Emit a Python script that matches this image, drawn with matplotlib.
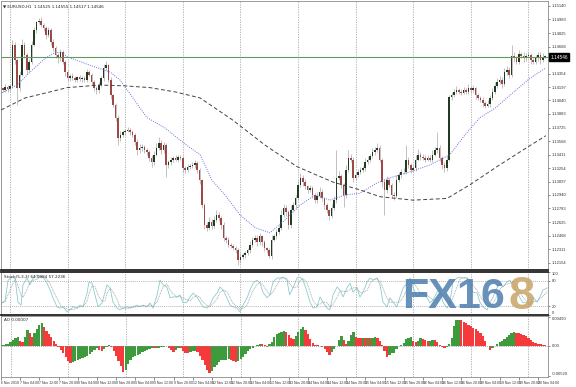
import numpy as np
import pandas as pd
import matplotlib.pyplot as plt

# -------------------------------
# Data (EURUSD H1, 6 Nov 20:00 -> 20 Nov 07:00)
# -------------------------------
closes = [
    1.1418, 1.1416, 1.1420, 1.1417, 1.1421, 1.1469, 1.1451, 1.1418, 1.1434, 1.1469, 1.1457, 1.1440,
    1.1449, 1.1469, 1.1486, 1.1495, 1.1497, 1.1492, 1.1488, 1.1480, 1.1486, 1.1472, 1.1465, 1.1457,
    1.1453, 1.1460, 1.1449, 1.1437, 1.1430, 1.1433, 1.1430, 1.1428, 1.1431, 1.1429, 1.1430, 1.1428,
    1.1437, 1.1434, 1.1426, 1.1418, 1.1416, 1.1422, 1.1430, 1.1442, 1.1445, 1.1428, 1.1410, 1.1399,
    1.1384, 1.1360, 1.1364, 1.1367, 1.1369, 1.1370, 1.1367, 1.1364, 1.1356, 1.1346, 1.1349, 1.1350,
    1.1346, 1.1344, 1.1337, 1.1332, 1.1341, 1.1349, 1.1355, 1.1346, 1.1352, 1.1329, 1.1332, 1.1335,
    1.1337, 1.1335, 1.1338, 1.1337, 1.1325, 1.1323, 1.1327, 1.1328, 1.1329, 1.1331, 1.1323, 1.1311,
    1.1282, 1.1259, 1.1256, 1.1263, 1.1258, 1.1265, 1.1271, 1.1267, 1.1259, 1.1244, 1.1242, 1.1236,
    1.1235, 1.1232, 1.1230, 1.1218, 1.1222, 1.1224, 1.1226, 1.1230, 1.1236, 1.1242, 1.1244, 1.1239,
    1.1246, 1.1239, 1.1232, 1.1230, 1.1223, 1.1242, 1.1246, 1.1251, 1.1256, 1.1271, 1.1279, 1.1274,
    1.1259, 1.1277, 1.1282, 1.1290, 1.1306, 1.1314, 1.1309, 1.1304, 1.1300, 1.1302, 1.1294, 1.1288,
    1.1293, 1.1298, 1.1290, 1.1282, 1.1276, 1.1270, 1.1279, 1.1288, 1.1314, 1.1316, 1.1306, 1.1294,
    1.1323, 1.1337, 1.1335, 1.1314, 1.1317, 1.1321, 1.1323, 1.1325, 1.1332, 1.1335, 1.1339, 1.1344,
    1.1346, 1.1349, 1.1335, 1.1309, 1.1300, 1.1311, 1.1306, 1.1294, 1.1293, 1.1311, 1.1317, 1.1321,
    1.1321, 1.1335, 1.1329, 1.1323, 1.1325, 1.1335, 1.1341, 1.1338, 1.1337, 1.1335, 1.1337, 1.1335,
    1.1341, 1.1346, 1.1349, 1.1337, 1.1329, 1.1325, 1.1335, 1.1408, 1.1410, 1.1414, 1.1416, 1.1414,
    1.1413, 1.1416, 1.1414, 1.1418, 1.1416, 1.1418, 1.1410, 1.1407, 1.1405, 1.1401, 1.1398, 1.1400,
    1.1407, 1.1414, 1.1421, 1.1426, 1.1428, 1.1423, 1.1437, 1.1440, 1.1434, 1.1456, 1.1453, 1.1449,
    1.1458, 1.1456, 1.1453, 1.1456, 1.1457, 1.1451, 1.1449, 1.1453, 1.1457, 1.1451, 1.1455, 1.1455,
]

# wick lengths beyond the body, in pips
wick_up = [
    2, 1, 3, 2, 2, 5, 3, 2, 4, 6, 3, 2,
    3, 4, 3, 2, 3, 4, 2, 3, 3, 2, 4, 3,
    2, 4, 3, 2, 3, 2, 3, 2, 2, 3, 2, 3,
    4, 3, 2, 2, 3, 4, 3, 4, 5, 2, 3, 2,
    2, 3, 4, 3, 2, 3, 2, 3, 2, 3, 4, 3,
    2, 3, 2, 3, 4, 5, 6, 3, 4, 2, 3, 3,
    2, 3, 2, 3, 2, 3, 3, 2, 3, 4, 2, 3,
    2, 3, 4, 5, 3, 4, 5, 3, 2, 3, 2, 3,
    2, 2, 3, 2, 4, 3, 3, 2, 4, 3, 4, 3,
    4, 2, 3, 2, 2, 5, 3, 4, 3, 5, 4, 3,
    3, 5, 4, 4, 5, 6, 3, 4, 2, 4, 3, 2,
    4, 5, 3, 2, 3, 2, 4, 5, 32, 6, 3, 2,
    6, 9, 5, 3, 4, 3, 4, 3, 5, 4, 3, 5,
    4, 5, 3, 2, 4, 5, 3, 2, 3, 6, 4, 3,
    4, 17, 3, 2, 4, 5, 6, 3, 4, 3, 4, 3,
    5, 4, 18, 3, 2, 3, 4, 2, 4, 3, 5, 3,
    3, 4, 3, 5, 3, 4, 2, 3, 2, 3, 2, 4,
    3, 4, 5, 4, 5, 3, 5, 4, 3, 13, 4, 3,
    5, 3, 4, 3, 4, 2, 3, 4, 4, 3, 4, 2,
]
wick_dn = [
    3, 2, 2, 3, 2, 3, 4, 19, 3, 2, 4, 5,
    3, 2, 2, 3, 2, 2, 3, 4, 2, 3, 3, 4,
    5, 3, 2, 4, 3, 3, 2, 3, 3, 2, 3, 2,
    3, 2, 4, 3, 5, 3, 2, 3, 2, 3, 4, 3,
    4, 8, 3, 2, 3, 2, 3, 3, 4, 5, 3, 4,
    3, 4, 3, 5, 3, 2, 3, 4, 3, 14, 4, 3,
    3, 2, 3, 2, 4, 3, 2, 3, 2, 3, 3, 4,
    3, 5, 4, 3, 4, 2, 3, 3, 4, 3, 4, 3,
    3, 2, 4, 5, 3, 2, 3, 2, 3, 2, 3, 4,
    3, 4, 3, 3, 2, 3, 2, 3, 2, 3, 3, 4,
    5, 3, 2, 3, 2, 3, 4, 3, 4, 3, 4, 3,
    3, 2, 3, 4, 3, 5, 3, 2, 3, 3, 4, 14,
    3, 2, 3, 5, 3, 2, 3, 2, 3, 2, 3, 2,
    3, 2, 3, 6, 29, 4, 3, 4, 5, 3, 2, 3,
    3, 2, 4, 3, 2, 3, 2, 3, 2, 3, 2, 3,
    3, 2, 3, 4, 5, 4, 3, 2, 3, 2, 3, 2,
    3, 2, 3, 2, 3, 2, 4, 3, 3, 4, 3, 2,
    3, 2, 3, 2, 3, 4, 2, 3, 4, 3, 4, 3,
    2, 3, 4, 3, 3, 4, 3, 2, 3, 4, 2, 2,
]

# moving averages (bar position, price)
ma_fast_pos = [0.7, 6.9, 12.3, 18.6, 22.8, 25.7, 27.8, 37.3, 45.7, 49.8, 61.1, 68.6, 74.8, 79.0,
               83.2, 88.2, 93.6, 99.8, 106.1, 112.3, 118.6, 124.8, 131.1, 137.3, 143.6, 149.8,
               156.9, 162.3, 170.7, 179.0, 187.3, 193.6, 199.8, 206.1, 212.3, 220.7, 227.3]
ma_fast = [1.1413, 1.1422, 1.1437, 1.1453, 1.1460, 1.1460, 1.1455, 1.1445, 1.1437, 1.1428, 1.1384,
           1.1372, 1.1358, 1.1349, 1.1341, 1.1311, 1.1294, 1.1271, 1.1256, 1.1250, 1.1265, 1.1282,
           1.1294, 1.1288, 1.1294, 1.1296, 1.1308, 1.1314, 1.1321, 1.1329, 1.1341, 1.1364, 1.1384,
           1.1395, 1.1410, 1.1430, 1.1442]
ma_slow_pos = [0.3, 10.3, 20.7, 27.8, 41.5, 51.9, 62.3, 72.8, 83.2, 96.9, 110.3, 123.6, 138.6,
               149.8, 158.2, 171.9, 186.1, 195.7, 206.9, 219.8, 227.3]
ma_slow = [1.1393, 1.1407, 1.1414, 1.1419, 1.1422, 1.1421, 1.1419, 1.1414, 1.1407, 1.1381, 1.1352,
           1.1327, 1.1309, 1.1300, 1.1292, 1.1288, 1.1290, 1.1306, 1.1327, 1.1350, 1.1363]

# stochastic %K (bar position, value)
stoch_pos = [0.5, 1.9, 3.2, 4.8, 6.1, 7.3, 8.6, 9.4, 11.1, 12.3, 13.6, 15.3, 16.5, 17.8, 19.4,
             20.7, 21.9, 23.6, 24.8, 26.1, 27.8, 29.0, 30.3, 31.9, 33.2, 34.4, 36.1, 36.9, 38.2,
             39.4, 40.7, 42.3, 43.6, 44.4, 45.7, 46.9, 48.6, 49.8, 51.1, 52.8, 54.0, 55.3, 56.9,
             58.2, 59.4, 61.1, 62.3, 63.6, 65.3, 66.5, 67.8, 69.4, 70.7, 71.9, 73.6, 74.8, 76.1,
             77.8, 79.0, 80.3, 81.9, 83.2, 84.4, 86.1, 87.3, 88.6, 90.3, 91.5, 92.8, 94.4, 95.7,
             96.9, 98.6, 99.8, 101.1, 102.8, 104.0, 105.3, 106.9, 108.2, 109.4, 111.1, 112.3,
             113.6, 115.3, 116.5, 117.8, 119.4, 120.5, 121.9, 123.6, 124.8, 126.1, 127.8, 129.0,
             130.3, 131.9, 133.2, 134.4, 136.1, 137.3, 138.6, 140.3, 141.5, 142.8, 144.4, 145.7,
             146.9, 148.6, 149.8, 151.1, 152.8, 154.0, 155.3, 156.9, 158.2, 159.4, 161.1, 162.3,
             163.6, 165.2, 166.5, 167.8, 169.4, 170.7, 171.9, 173.6, 174.8, 176.1, 177.8, 179.0,
             180.3, 181.9, 183.2, 184.4, 186.1, 187.3, 188.6, 190.2, 191.5, 192.8, 194.4, 195.7,
             196.9, 198.6, 199.8, 201.1, 202.8, 204.0, 205.3, 206.9, 208.2, 209.4, 211.1, 212.3,
             213.6, 215.2, 216.5, 217.8, 219.4, 220.7, 221.9, 223.6, 224.8, 226.1, 227.8]
stoch_k = [28, 33, 81, 88, 86, 30, 23, 70, 86, 70, 86, 93, 88, 88, 74,
           58, 40, 19, 16, 19, 7, 12, 19, 16, 23, 19, 51, 77, 74,
           47, 19, 28, 53, 70, 63, 30, 16, 12, 16, 19, 16, 19, 23,
           19, 23, 19, 28, 16, 47, 81, 70, 65, 40, 42, 42, 47, 28,
           30, 42, 51, 42, 30, 19, 16, 23, 40, 51, 65, 58, 40, 23,
           19, 16, 7, 23, 40, 58, 74, 81, 74, 53, 40, 47,
           77, 86, 86, 88, 81, 47, 63, 86, 88, 81, 53, 30,
           16, 19, 42, 30, 16, 12, 47, 65, 58, 42, 63, 74,
           53, 63, 42, 53, 77, 86, 81, 86, 70, 30, 19, 40,
           30, 19, 42, 63, 74, 86, 65, 42, 47, 53, 40, 28,
           35, 53, 58, 30, 16, 30, 77, 86, 88, 86, 86, 70,
           53, 51, 30, 19, 12, 28, 42, 63, 74, 65, 77, 81,
           70, 53, 40, 28, 30, 23, 42, 30, 42, 58, 63]

# Awesome Oscillator, one value per bar, in pips
ao_pips = [
    0.5, 1.4, 2.6, 3.6, 6.0, 9.4, 12.8, 14.1, 8.8, 6.6, 15.3, 26.7,
    22.1, 15.3, 21.3, 28.1, 35.2, 37.9, 32.3, 25.5, 19.6, 14.8, 8.0, 2.6,
    -2.6, -6.8, -12.9, -19.7, -25.7, -29.4, -27.2, -25.2, -23.5, -21.8, -20.4, -19.7,
    -18.0, -14.6, -11.1, -7.0, -4.3, -7.3, -8.7, -6.0, -1.7, 2.0, -2.2, -9.0,
    -16.8, -25.3, -34.7, -44.7, -40.8, -30.6, -23.5, -19.4, -16.8, -15.0, -13.3, -11.4,
    -8.7, -6.6, -4.9, -3.9, -3.9, -3.7, -3.1, -2.4, -1.5, -0.7, -4.6, -7.3,
    -10.0, -6.6, -3.9, -3.9, -8.5, -11.6, -12.1, -11.1, -8.8, -8.5, -11.1, -16.7,
    -24.3, -33.2, -41.3, -46.8, -42.2, -36.6, -32.0, -27.7, -25.0, -24.3, -24.1, -22.8,
    -23.8, -25.8, -27.5, -25.2, -22.4, -18.7, -13.6, -9.4, -6.1, -3.7, -0.9, 1.4,
    2.4, 2.2, 0.7, -2.2, 2.2, 6.0, 14.1, 20.7, 22.4, 23.5, 24.8, 23.0,
    18.7, 12.8, 11.9, 16.2, 23.0, 29.2, 31.3, 26.4, 19.6, 11.9, 5.1, 1.2,
    0.9, 0.0, -1.4, -4.8, -10.7, -16.2, -11.2, -6.0, -0.2, 9.7, 16.5, 10.4,
    3.4, 8.5, 18.2, 23.3, 15.3, 13.4, 13.0, 13.3, 13.1, 13.4, 13.2, 13.9,
    14.3, 12.4, 8.8, 0.9, -9.7, -19.2, -15.0, -12.4, -11.9, -5.1, -0.9, 1.7,
    4.3, 10.7, 13.6, 14.8, 7.7, 6.3, 8.0, 12.4, 10.9, 9.2, 8.3, 8.7,
    9.7, 9.7, 6.1, 2.0, -2.2, -3.4, -2.7, 2.6, 13.9, 33.2, 43.0, 43.7,
    43.4, 40.6, 38.3, 35.5, 33.2, 30.8, 27.9, 24.3, 20.9, 16.5, 8.0, 0.3,
    -6.8, -3.2, -0.3, 3.4, 6.6, 8.5, 10.7, 14.8, 18.9, 21.1, 23.3, 22.4,
    21.6, 19.9, 18.4, 16.0, 13.8, 10.4, 7.1, 4.8, 3.4, 2.4, 1.7, 1.2,
]

time_labels = ["6 Nov 2018", "7 Nov 04:00", "7 Nov 12:00", "7 Nov 20:00", "8 Nov 04:00",
               "8 Nov 12:00", "8 Nov 20:00", "9 Nov 04:00", "9 Nov 12:00", "9 Nov 20:00",
               "12 Nov 04:00", "12 Nov 12:00", "12 Nov 20:00", "13 Nov 04:00", "13 Nov 12:00",
               "13 Nov 20:00", "14 Nov 04:00", "14 Nov 12:00", "14 Nov 20:00", "15 Nov 04:00",
               "15 Nov 12:00", "15 Nov 20:00", "16 Nov 04:00", "16 Nov 12:00", "16 Nov 20:00",
               "19 Nov 04:00", "19 Nov 12:00", "19 Nov 20:00", "20 Nov 04:00"]
price_ticks = [1.15140, 1.14983, 1.14825, 1.14668, 1.14511, 1.14354, 1.14197, 1.14040,
               1.13883, 1.13725, 1.13568, 1.13411, 1.13254, 1.13097, 1.12940, 1.12783,
               1.12625, 1.12468, 1.12311, 1.12154]
stoch_ticks = [100, 80, 20, 0]
ao_ticks = [0.0049, 0.0, -0.0052]
last_price = 1.14546

# -------------------------------
# Layout helpers (pixel boxes)
# -------------------------------
W, H = 576, 387
fig = plt.figure(figsize=(W / 100, H / 100), dpi=100)
fig.patch.set_facecolor("white")


def px_axes(x0, y0, x1, y1):
    return fig.add_axes([x0 / W, 1 - y1 / H, (x1 - x0) / W, (y1 - y0) / H])


ax = px_axes(1, 1, 548, 270)
ax_st = px_axes(1, 272, 548, 315)
ax_ao = px_axes(1, 316, 548, 377)

FS = 3.0
SMALL = ["Liberation Sans Narrow", "Liberation Sans", "DejaVu Sans"]
bull, bear, wick = "#233a23", "#a04848", "#a8a8a8"
grid_col = "#a9a9a9"

c = np.array(closes)
n = len(c)
x = np.arange(n)
o = np.r_[c[0], c[:-1]]  # MT4 bars open at the previous close
hi = np.maximum(o, c) + np.array(wick_up) * 1e-4
lo = np.minimum(o, c) - np.array(wick_dn) * 1e-4

for a in (ax, ax_st, ax_ao):
    a.set_xlim(0.25, 228.17)
    for g in range(4, n, 24):
        a.axvline(g, color=grid_col, lw=0.6, ls=(0, (1.5, 1.5)), zorder=0)
    for s in a.spines.values():
        s.set_color("#8a8a8a")
        s.set_linewidth(0.6)
    a.yaxis.tick_right()
    a.tick_params(axis="y", labelsize=FS, length=1.5, width=0.4, pad=1.5, colors="#333333")
    a.tick_params(axis="x", bottom=False, labelbottom=False)

# -------------------------------
# Main price panel
# -------------------------------
ax.vlines(x, lo, hi, color=wick, lw=0.5, zorder=2)
body = np.maximum(np.abs(c - o), 0.00003)
ax.bar(x, body, bottom=np.minimum(o, c), width=0.7,
       color=np.where(c >= o, bull, bear), linewidth=0, zorder=3)
ax.plot(ma_fast_pos, ma_fast, color="#6f6fd8", lw=0.7, ls=(0, (1, 1.3)), zorder=4)
ax.plot(ma_slow_pos, ma_slow, color="#444444", lw=0.7, ls=(0, (4, 2.5)), zorder=4)
ax.axhline(last_price, color="#5f9a5f", lw=0.8, zorder=4)
ax.set_ylim(1.12067, 1.15198)
ax.set_yticks(price_ticks)
ax.set_yticklabels([f"{t:.5f}" for t in price_ticks], family=SMALL)
ax.spines["bottom"].set_color("#222222")
ax.spines["bottom"].set_linewidth(1.3)
ax.text(1.004, last_price, f"{last_price:.5f}", transform=ax.get_yaxis_transform(),
        fontsize=FS + 0.4, family=SMALL, color="white", va="center", ha="left",
        zorder=10, clip_on=False,
        bbox=dict(boxstyle="square,pad=0.3", fc="black", ec="black"))
fig.text(3 / W, 1 - 6 / H, "\u25BC EURUSD,H1  1.14525 1.14555 1.14517 1.14546",
         fontsize=FS, va="center", ha="left", color="#222222")

# -------------------------------
# Stochastic panel
# -------------------------------
signal = pd.Series(stoch_k).rolling(3, min_periods=1).mean()
ax_st.plot(stoch_pos, stoch_k, color="#8ccbd2", lw=0.6)
ax_st.plot(stoch_pos, signal, color="#9a9a9a", lw=0.6, ls=(0, (1, 1)))
for lvl in (80, 20):
    ax_st.axhline(lvl, color="#9a9a9a", lw=0.5, ls=(0, (1.5, 1.5)))
ax_st.set_ylim(0, 100)
ax_st.set_yticks(stoch_ticks)
ax_st.set_yticklabels([str(t) for t in stoch_ticks], family=SMALL)
st_labels = ax_st.get_yticklabels()
st_labels[0].set_va("top")
st_labels[-1].set_va("bottom")
for side in ("top", "bottom"):
    ax_st.spines[side].set_color("#222222")
    ax_st.spines[side].set_linewidth(1.3)
fig.text(4 / W, 1 - 277 / H, "Stoch(5,3,3) 64.0984 57.2236", fontsize=FS,
         va="center", ha="left", color="#222222")

# FX168 watermark
WM = ["Liberation Sans", "DejaVu Sans"]
fig.text(402 / W, 1 - 297 / H, "FX16", fontsize=31, fontweight="bold",
         family=WM, color="#4e7fae", alpha=0.85, va="center", ha="left")
fig.text(509 / W, 1 - 297 / H, "8", fontsize=34, fontweight="bold",
         family=WM, color="#c9a466", alpha=0.85, va="center", ha="left")

# -------------------------------
# Awesome Oscillator panel
# -------------------------------
ao = np.array(ao_pips) * 1e-4
rising = np.r_[True, ao[1:] > ao[:-1]]
ax_ao.bar(x, ao, width=0.95, color=np.where(rising, "#3d9a3d", "#f43a3a"), linewidth=0)
ax_ao.axhline(0, color="#888888", lw=0.5, ls=(0, (1.5, 1.5)))
ax_ao.set_ylim(-0.00532, 0.00505)
ax_ao.set_yticks(ao_ticks)
ax_ao.set_yticklabels(["0.00490", "0.00", "-0.00520"], family=SMALL)
ao_labels = ax_ao.get_yticklabels()
ao_labels[0].set_va("top")
ao_labels[-1].set_va("bottom")
ax_ao.tick_params(axis="x", bottom=True, labelbottom=True, labelsize=2.5, length=2,
                  width=0.4, pad=1.0, colors="#333333")
ax_ao.set_xticks(range(0, n, 8))
ax_ao.set_xticklabels(time_labels, ha="left", family=SMALL)
fig.text(4 / W, 1 - 320 / H, "AO 0.00007", fontsize=FS, va="center", ha="left",
         color="#222222")

fig.savefig("out.png", dpi=100, facecolor="white")
